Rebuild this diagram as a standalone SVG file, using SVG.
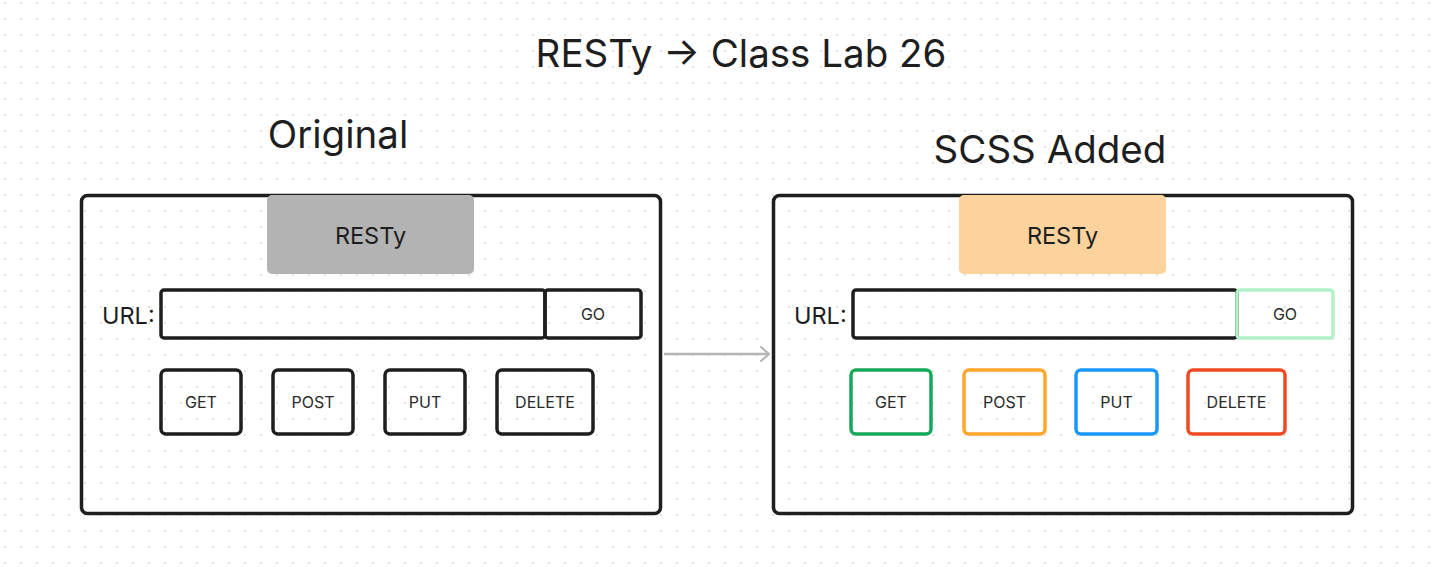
<svg xmlns="http://www.w3.org/2000/svg" width="1434" height="567" viewBox="0 0 1434 567">
<defs>
<pattern id="dots" x="0" y="0" width="16" height="16" patternUnits="userSpaceOnUse">
<rect x="4" y="2" width="2" height="2" fill="#e3e3e3"/>
</pattern>
<marker id="chev" viewBox="0 0 12 16" refX="10" refY="8" markerWidth="12" markerHeight="16" markerUnits="userSpaceOnUse" orient="auto">
<path d="M2,1 L10,8 L2,15" fill="none" stroke="#b5b5b5" stroke-width="2" stroke-linecap="round" stroke-linejoin="round"/>
</marker>
<style>
text{font-family:Inter,"Liberation Sans",sans-serif;fill:#1e1e1e;}
.title{font-size:38.5px;text-anchor:middle;}
.lbl{font-size:23.5px;}
.c{text-anchor:middle;}
.btn{font-size:16px;text-anchor:middle;fill:#2a2a2a;}
.frame{fill:none;stroke:#1e1e1e;stroke-width:3.5;}
.box{fill:none;stroke:#1e1e1e;stroke-width:3.5;}
</style>
</defs>
<rect width="1434" height="567" fill="#ffffff"/>
<rect width="1434" height="567" fill="url(#dots)"/>

<g id="title"><text class="title" x="741" y="67">RESTy → Class Lab 26</text></g>
<g id="heading-original"><text class="title" x="338" y="148">Original</text></g>
<g id="heading-scss"><text class="title" x="1050" y="163">SCSS Added</text></g>

<g id="original">
<rect class="frame" x="81.5" y="195.5" width="579" height="318" rx="6"/>
<rect x="267" y="195" width="207" height="79" rx="5" fill="#b3b3b3"/>
<text class="lbl c" x="370.5" y="244">RESTy</text>
<text class="lbl" x="102" y="324">URL:</text>
<rect class="box" x="161" y="290" width="384" height="48" rx="3"/>
<rect class="box" x="545" y="290" width="96" height="48" rx="3"/>
<text class="btn" x="593" y="320">GO</text>
<rect class="box" x="161" y="370" width="80" height="64" rx="5"/>
<text class="btn" x="201" y="408">GET</text>
<rect class="box" x="273" y="370" width="80" height="64" rx="5"/>
<text class="btn" x="313" y="408">POST</text>
<rect class="box" x="385" y="370" width="80" height="64" rx="5"/>
<text class="btn" x="425" y="408">PUT</text>
<rect class="box" x="497" y="370" width="96" height="64" rx="5"/>
<text class="btn" x="545" y="408">DELETE</text>
</g>

<g id="scss">
<rect class="frame" x="773.5" y="195.5" width="579" height="318" rx="6"/>
<rect x="959" y="195" width="207" height="79" rx="5" fill="#fcd39c"/>
<text class="lbl c" x="1062.5" y="244">RESTy</text>
<text class="lbl" x="794" y="324">URL:</text>
<rect class="box" x="853" y="290" width="384" height="48" rx="3"/>
<rect x="1237" y="290" width="96" height="48" rx="3" fill="none" stroke="#b2f2c8" stroke-width="3.5"/>
<text class="btn" x="1285" y="320">GO</text>
<rect x="851" y="370" width="80" height="64" rx="5" fill="none" stroke="#17a95a" stroke-width="3.5"/>
<text class="btn" x="891" y="408">GET</text>
<rect x="964" y="370" width="81" height="64" rx="5" fill="none" stroke="#ffa62b" stroke-width="3.5"/>
<text class="btn" x="1004.5" y="408">POST</text>
<rect x="1076" y="370" width="81" height="64" rx="5" fill="none" stroke="#1898ff" stroke-width="3.5"/>
<text class="btn" x="1116.5" y="408">PUT</text>
<rect x="1188" y="370" width="97" height="64" rx="5" fill="none" stroke="#f04a24" stroke-width="3.5"/>
<text class="btn" x="1236.5" y="408">DELETE</text>
</g>

<g id="connectors">
<line x1="664" y1="354" x2="769" y2="354" stroke="#b5b5b5" stroke-width="2.5" marker-end="url(#chev)"/>
</g>
</svg>
